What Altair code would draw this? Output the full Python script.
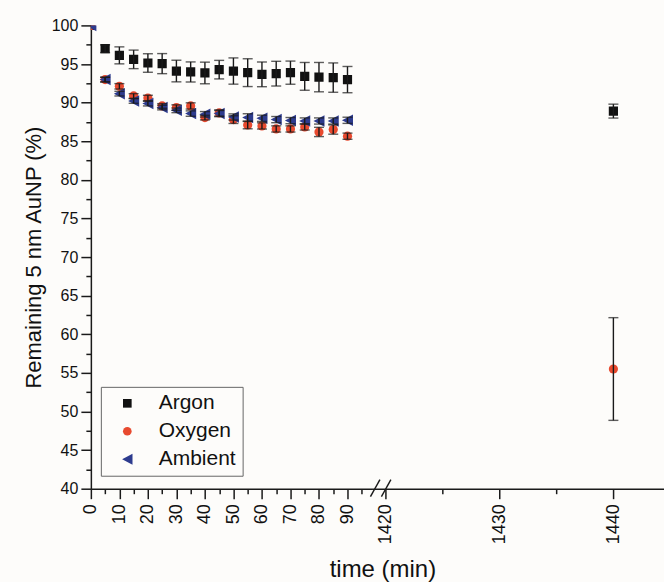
import altair as alt
import pandas as pd

# ---------------- data ----------------
series_names = ["Argon", "Oxygen", "Ambient"]
series_colors = ["#111111", "#e84a2f", "#2d3b8e"]
series_shapes = ["square", "circle", "M1.2,-1.25L1.2,1.25L-1.2,0Z"]

times = [0, 5, 10, 15, 20, 25, 30, 35, 40, 45, 50, 55, 60, 65, 70, 75, 80, 85, 90]
argon = [100, 96.98, 96.12, 95.6, 95.13, 95.05, 94.09, 93.97, 93.84, 94.27, 94.09,
         93.88, 93.66, 93.75, 93.88, 93.4, 93.3, 93.24, 92.98]
argon_err = [0, 0.5, 1.1, 1.2, 1.2, 1.3, 1.4, 1.3, 1.4, 1.2, 1.7, 1.8, 1.6, 1.6, 1.5,
             1.8, 1.9, 1.9, 1.7]
oxygen = [100, 92.98, 92.11, 90.86, 90.6, 89.57, 89.36, 89.57, 88.06, 88.66, 87.8,
          87.11, 86.98, 86.59, 86.59, 86.85, 86.2, 86.51, 85.65]
oxygen_err = [0, 0.3, 0.35, 0.3, 0.35, 0.3, 0.35, 0.4, 0.3, 0.4, 0.5, 0.5, 0.4, 0.4,
              0.4, 0.4, 0.6, 0.6, 0.4]
ambient = [100, 92.98, 91.16, 90.21, 89.87, 89.36, 89.0, 88.58, 88.49, 88.58, 88.14,
           88.06, 87.97, 87.8, 87.67, 87.62, 87.62, 87.62, 87.71]
ambient_err = [0, 0.3, 0.3, 0.3, 0.3, 0.3, 0.3, 0.35, 0.35, 0.4, 0.4, 0.5, 0.4, 0.4,
               0.4, 0.4, 0.4, 0.4, 0.4]

late_times = [1440, 1440]
late_series = ["Argon", "Oxygen"]
late_values = [88.9, 55.5]
late_err = [0.9, 6.65]

left_ticks = [0, 5, 10, 15, 20, 25, 30, 35, 40, 45, 50, 55, 60, 65, 70, 75, 80, 85, 90, 95]
right_ticks = [1420, 1425, 1430, 1435, 1440]
y_ticks = [40 + 2.5 * i for i in range(25)]

# ---------------- tables ----------------
rows = []
for name, vals, errs in [("Argon", argon, argon_err), ("Oxygen", oxygen, oxygen_err),
                         ("Ambient", ambient, ambient_err)]:
    for t, v, e in zip(times, vals, errs):
        rows.append({"series": name, "t": t, "value": v, "err": e})
early = pd.DataFrame(rows)
late = pd.DataFrame({"series": late_series, "t": late_times, "value": late_values, "err": late_err})
for df in (early, late):
    df["lo"] = df["value"] - df["err"]
    df["hi"] = df["value"] + df["err"]

FONT = "Liberation Sans"
INK = "#1a1a1a"

legend = alt.Legend(title=None, orient="none", legendX=10, legendY=362,
                    strokeColor="#666666", fillColor="#fdfcfa", padding=6,
                    symbolOffset=10, labelOffset=21, symbolSize=75,
                    labelFontSize=21, labelFont=FONT, labelColor="#111111",
                    rowPadding=6, symbolStrokeWidth=0)
color = alt.Color("series:N", sort=series_names,
                  scale=alt.Scale(domain=series_names, range=series_colors), legend=legend)
shape = alt.Shape("series:N", sort=series_names,
                  scale=alt.Scale(domain=series_names, range=series_shapes), legend=legend)

y_axis = alt.Axis(values=y_ticks, format="d",
                  labelExpr="datum.value % 5 == 0 ? datum.label : ''",
                  labelOverlap=False,
                  tickSize={"condition": {"test": "datum.value % 5 != 0", "value": 5}, "value": 10},
                  labelFontSize=16, labelPadding=3, labelFont=FONT, labelColor="#111111",
                  title="Remaining 5 nm AuNP (%)", titleFontSize=22, titleFont=FONT,
                  titleFontWeight="normal", titleColor="#111111", titlePadding=6,
                  grid=False, domainColor=INK, domainWidth=1.5, tickColor=INK, tickWidth=1.5)
y_scale = alt.Scale(domain=[40, 100], nice=False, zero=False)


def x_axis(vals, title, **kw):
    return alt.Axis(values=vals, format="d",
                    labelExpr="datum.value % 10 == 0 ? datum.label : ''",
                    labelOverlap=False,
                    tickSize={"condition": {"test": "datum.value % 10 != 0", "value": 5}, "value": 10},
                    labelAngle=270, labelFontSize=18, labelPadding=5, labelFont=FONT,
                    labelColor="#111111", title=title, titleFontSize=24, titleFont=FONT,
                    titleFontWeight="normal", titleColor="#111111", grid=False,
                    domainColor=INK, domainWidth=1.5, tickColor=INK, tickWidth=1.5, **kw)


def panel(df, xdomain, xaxis, yaxis):
    xs = alt.Scale(domain=xdomain, nice=False, zero=False)
    x = alt.X("t:Q", scale=xs, axis=xaxis)
    pts = alt.Chart(df).mark_point(filled=True, size=85, opacity=1, clip=True).encode(
        x=x, y=alt.Y("value:Q", scale=y_scale, axis=yaxis), color=color, shape=shape)
    eb = df[df["err"] > 0]
    bars = alt.Chart(eb).mark_rule(color=INK, strokeWidth=1.4).encode(
        x=x, y=alt.Y("lo:Q", scale=y_scale, axis=yaxis), y2="hi:Q")
    caps_df = eb.melt(id_vars=["series", "t"], value_vars=["lo", "hi"], value_name="cap")
    caps = alt.Chart(caps_df).mark_tick(orient="horizontal", color=INK, size=10,
                                        thickness=1.4).encode(
        x=x, y=alt.Y("cap:Q", scale=y_scale, axis=yaxis))
    return pts, bars, caps


lp, lb, lc = panel(early, [0, 98.75],
                   x_axis(left_ticks, "time (min)", titleX=292, titleY=88,
                          titleAlign="center", titleBaseline="alphabetic"),
                   y_axis)
one = pd.DataFrame({"k": [0]})
slash1 = alt.Chart(one).mark_rule(color=INK, strokeWidth=1.4).encode(
    x=alt.value(280), x2=alt.value(289.5), y=alt.value(472), y2=alt.value(455))
slash2 = alt.Chart(one).mark_rule(color=INK, strokeWidth=1.4).encode(
    x=alt.value(291), x2=alt.value(300.5), y=alt.value(472), y2=alt.value(455))
left = alt.layer(lp, lb, lc, slash1, slash2).properties(width=282, height=464)

rp, rb, rc = panel(late, [1418.86, 1444.44], x_axis(right_ticks, None), None)
right = alt.layer(rp, rb, rc).properties(width=292, height=464)

chart = alt.hconcat(left, right, spacing=0, bounds="flush").resolve_scale(
    color="shared", shape="shared", y="shared", x="independent"
).properties(
    background="#fdfcfa",
    padding={"left": 22, "top": 17, "right": 0, "bottom": 0},
).configure_view(stroke=None).configure_axis(labelOverlap=False)

chart.save("out.html", embed_options={"renderer": "svg", "actions": False})
